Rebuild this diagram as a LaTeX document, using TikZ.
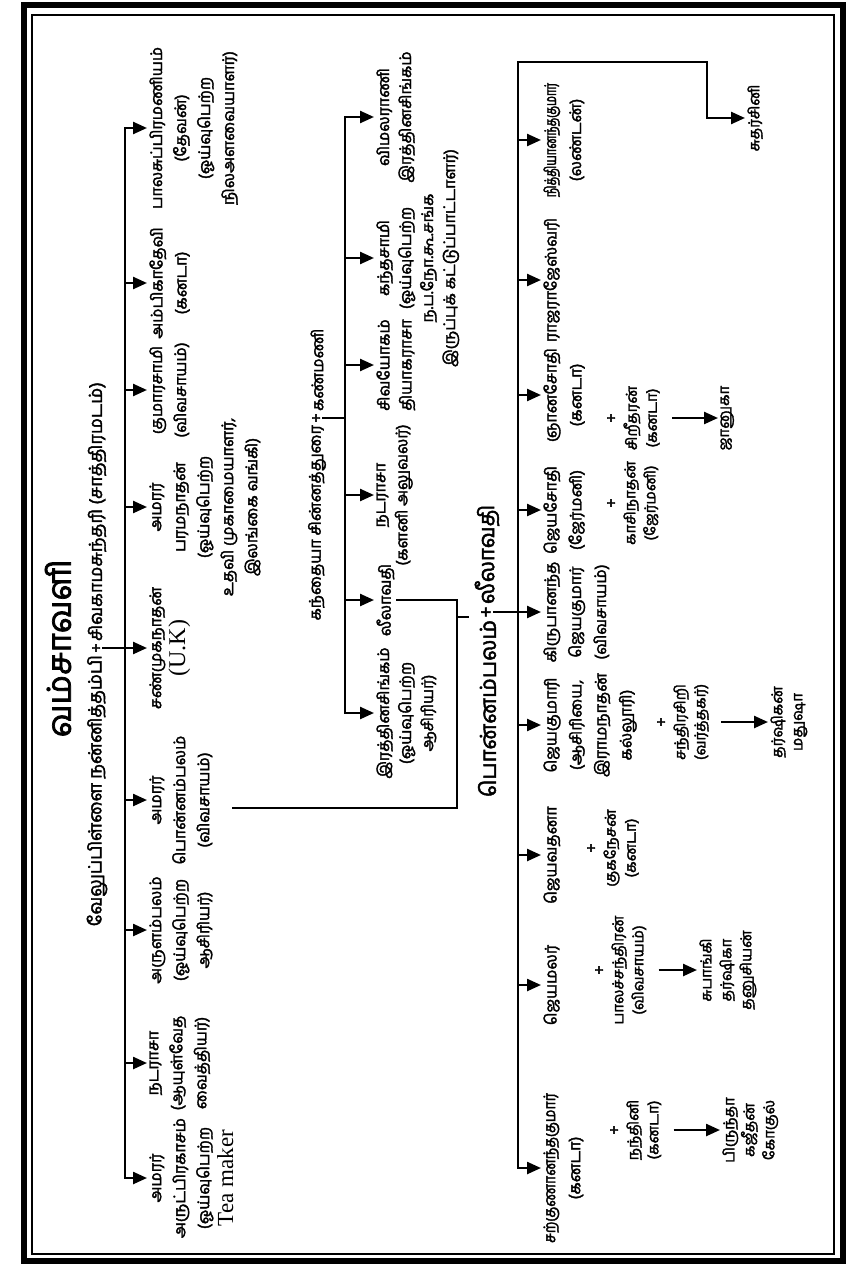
\documentclass[tikz,border=0pt]{standalone}
\usepackage{fontspec}
\setmainfont[Script=Tamil,FakeBold=2.2]{Hind Madurai}
\newfontfamily\tacond[Script=Tamil,FakeBold=2.2,FakeStretch=0.7]{Hind Madurai}
\newfontfamily\tanarrow[Script=Tamil,FakeBold=2.2,FakeStretch=0.88]{Hind Madurai}
\newfontfamily\lat{Liberation Serif}
\usetikzlibrary{arrows.meta}
\begin{document}
\begin{tikzpicture}[x=1pt,y=1pt,
  conn/.style={line width=2.4pt,line cap=rect},
  arr/.style={line width=2.4pt,-{Triangle[length=14pt,width=12pt]}},
  person/.style={rotate=90,anchor=north,align=center,inner sep=0.5pt,outer sep=2pt,font=\fontsize{16}{24}\selectfont},
  midperson/.style={person,font=\fontsize{16}{22}\selectfont},
  lowperson/.style={person,font=\fontsize{16}{25}\selectfont},
  kin/.style={person,font=\fontsize{15}{20}\selectfont},
  plusn/.style={rotate=90,inner sep=1pt,font=\fontsize{17}{17}\selectfont},
  subt/.style={rotate=90,inner sep=1pt,font=\fontsize{18}{18}\selectfont}]
\useasboundingbox (0,0) rectangle (850,-1268);
% frames
\draw[line width=6pt] (23.5,-5) rectangle (843,-1261);
\draw[line width=1.3pt] (32,-15) rectangle (834,-1254);
% title
\node[rotate=90,font=\fontsize{33}{33}\selectfont] (title) at (58,-648) {வம்சாவளி};
\node[plusn] (plus0) at (97,-648) {+};
\node[subt,anchor=east] (subL) at (plus0.west) {வேலுப்பிள்ளை நன்னித்தம்பி};
\node[subt,anchor=west] (subR) at (plus0.east) {சிவகாமசுந்தரி (சாத்திரமடம்)};
% top row
\coordinate (tb1) at (125,-128);
\coordinate (tb2) at (125,-1178);
\node[person] (t1) at (147,-128) {பாலசுப்பிரமணியம்\\(தேவன்)\\(ஓய்வுபெற்ற\\நிலஅளவையாளர்)};
\node[person] (t2) at (147,-283) {அம்பிகாதேவி\\(கனடா)};
\node[person] (t3) at (147,-390) {குமாரசாமி\\(விவசாயம்)};
\node[person] (t4) at (147,-507) {அமரர்\\பரமநாதன்\\(ஓய்வுபெற்ற\\உதவி முகாமையாளர்,\\இலங்கை வங்கி)};
\node[person] (t5) at (147,-648) {சண்முகநாதன்\\{\lat\fontsize{24}{24}\selectfont (U.K)}};
\node[person] (t6) at (147,-800) {அமரர்\\பொன்னம்பலம்\\(விவசாயம்)};
\node[person] (t7) at (147,-930) {அருளம்பலம்\\(ஓய்வுபெற்ற\\ஆசிரியர்)};
\node[person] (t8) at (147,-1063) {நடராசா\\(ஆயுள்வேத\\வைத்தியர்)};
\node[person] (t9) at (147,-1178) {அமரர்\\அருட்பிரகாசம்\\(ஓய்வுபெற்ற\\{\lat\fontsize{23}{26}\selectfont Tea maker}};
\draw[conn] (tb1) -- (tb2);
\draw[conn] (plus0.south) -- (plus0.south -| tb1);
\foreach \n in {t1,t2,t3,t4,t5,t6,t7,t8,t9}
  \draw[arr] (\n.north -| tb1) -- (\n.north);
% middle row
\node[plusn] (mplus) at (317,-418) {+};
\node[subt,anchor=east,font=\fontsize{16}{16}\selectfont] (mL) at (mplus.west) {கந்தையா சின்னத்துரை};
\node[subt,anchor=west,font=\fontsize{16}{16}\selectfont] (mR) at (mplus.east) {கண்மணி};
\coordinate (mb1) at (345,-117);
\coordinate (mb2) at (345,-713);
\node[midperson] (m1) at (374,-713) {இரத்தினசிங்கம்\\(ஓய்வுபெற்ற\\ஆசிரியர்)};
\node[midperson] (m2) at (374,-600) {லீலாவதி};
\node[midperson] (m3) at (374,-495) {நடராசா\\(களனி அலுவலர்)};
\node[midperson] (m4) at (374,-365) {சிவயோகம்\\தியாகராசா};
\node[midperson] (m5) at (374,-258) {கந்தசாமி\\(ஓய்வுபெற்ற\\ந.ப.நோ.கூ.சங்க\\இருப்புக் கட்டுப்பாட்டாளர்)};
\node[midperson] (m6) at (374,-117) {விமலராணி\\இரத்தினசிங்கம்};
\draw[conn] (mb1) -- (mb2);
\draw[conn] (mplus.south) -- (mplus.south -| mb1);
\foreach \n in {m1,m2,m3,m4,m5,m6}
  \draw[arr] (\n.north -| mb1) -- (\n.north);
% link from Ponnampalam to Leelavathy
\coordinate (ps) at (233,-808);
\coordinate (pk) at (457,-808);
\draw[conn] (ps) -- (pk) |- (m2.south);
\coordinate (tk) at (457,-617);
\draw[conn] (tk) -- ++(11,0);
% bottom row
\node[plusn,font=\fontsize{20}{20}\selectfont] (bplus) at (487,-612) {+};
\node[subt,anchor=east,font=\fontsize{22}{22}\selectfont] (bL) at (bplus.west) {பொன்னம்பலம்};
\node[subt,anchor=west,font=\fontsize{22}{22}\selectfont] (bR) at (bplus.east) {லீலாவதி};
\coordinate (bb1) at (518,-62);
\coordinate (bb2) at (518,-1168);
\coordinate (bc) at (707,-62);
\node[lowperson] (b1) at (541,-140) {{\tacond நித்தியானந்தகுமார்}\\(லண்டன்)};
\node[lowperson] (b2) at (541,-280) {ராஜராஜேஸ்வரி};
\node[lowperson] (b3) at (541,-395) {ஞானசோதி\\(கனடா)};
\node[lowperson] (b4) at (541,-510) {ஜெயசோதி\\(ஜேர்மனி)};
\node[lowperson] (b5) at (541,-612) {கிருபானந்த\\ஜெயகுமார்\\(விவசாயம்)};
\node[lowperson] (b6) at (541,-725) {ஜெயகுமாரி\\(ஆசிரியை,\\இராமநாதன்\\கல்லூரி)};
\node[lowperson] (b7) at (541,-855) {ஜெயவதனா};
\node[lowperson] (b8) at (541,-985) {ஜெயமலர்};
\node[lowperson] (b9) at (541,-1168) {{\tanarrow சற்குணானந்தகுமார்}\\(கனடா)};
\draw[conn] (bb1) -- (bb2);
\draw[conn] (bplus.south) -- (bplus.south -| bb1);
\foreach \n in {b1,b2,b3,b4,b5,b6,b7,b8,b9}
  \draw[arr] (\n.north -| bb1) -- (\n.north);
\node[kin] (suth) at (745,-118) {சுதர்சினி};
\draw[arr] (bb1) -- (bc) |- (suth.north);
% spouses and children
\node[plusn] (p3) at (612,-418) {+};
\node[kin] (s3) at (621,-418) {சிறீதரன்\\(கனடா)};
\node[kin] (k3) at (718,-418) {ஜானுகா};
\draw[arr,shorten <=10pt] (s3.south) -- (k3.north);
\node[plusn] (p4) at (612,-503) {+};
\node[kin] (s4) at (621,-503) {காசிநாதன்\\(ஜேர்மனி)};
\node[plusn] (p6) at (662,-722) {+};
\node[kin] (s6) at (671,-722) {சந்திரசிறி\\(வர்த்தகர்)};
\node[kin] (k6) at (768,-722) {தர்ஷிகன்\\மதுஷா};
\draw[arr,shorten <=10pt] (s6.south) -- (k6.north);
\node[plusn] (p7) at (592,-848) {+};
\node[kin] (s7) at (601,-848) {குகநேசன்\\(கனடா)};
\node[plusn] (p8) at (600,-970) {+};
\node[kin] (s8) at (609,-970) {பாலச்சந்திரன்\\(விவசாயம்)};
\node[kin] (k8) at (697,-970) {சுபாங்கி\\தர்ஷிகா\\தனுசியன்};
\draw[arr,shorten <=10pt] (s8.south) -- (k8.north);
\node[plusn] (p9) at (615,-1130) {+};
\node[kin] (s9) at (624,-1130) {நந்தினி\\(கனடா)};
\node[kin] (k9) at (720,-1130) {பிருந்தா\\கஜீதன்\\கோகுல்};
\draw[arr,shorten <=10pt] (s9.south) -- (k9.north);
\end{tikzpicture}
\end{document}
